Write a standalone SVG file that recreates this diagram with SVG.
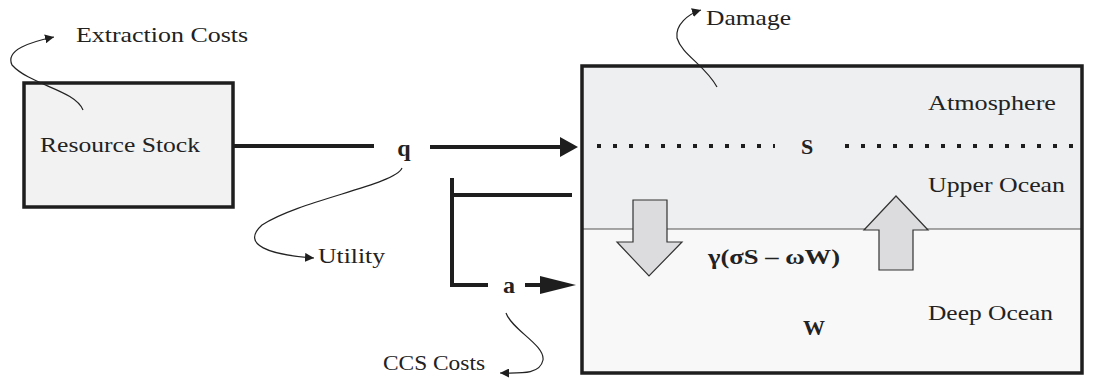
<svg xmlns="http://www.w3.org/2000/svg" width="1101" height="379" viewBox="0 0 1101 379">
<style>
text{font-family:'Liberation Serif',serif;fill:#222}
.b{font-weight:bold}
.thick{stroke:#1e1e1e;stroke-width:4;fill:none}
.thin{stroke:#222;stroke-width:1.2;fill:none}
.blk{fill:#1e1e1e}
.flow{fill:#dcdcde;stroke:#333;stroke-width:1.2}
</style>
<defs>
<marker id="sm" viewBox="0 0 10 10" refX="10" refY="5" markerWidth="9" markerHeight="9" markerUnits="userSpaceOnUse" orient="auto">
<path d="M0,0 L10,5 L0,10 Z" fill="#1e1e1e"/>
</marker>
</defs>
<rect width="1101" height="379" fill="#ffffff"/>

<g id="resource-stock">
<rect x="24" y="83" width="209" height="124" fill="#f2f2f3" stroke="#1e1e1e" stroke-width="3.5"/>
<text font-size="22" x="40" y="152" textLength="160" lengthAdjust="spacingAndGlyphs">Resource Stock</text>
</g>

<g id="climate-box">
<rect x="582" y="66" width="500" height="163" fill="#eeeff1"/>
<rect x="582" y="229" width="500" height="144" fill="#f8f8f8"/>
<line x1="582" y1="229" x2="1082" y2="229" stroke="#555" stroke-width="1.2"/>
<rect x="582" y="66" width="500" height="307" fill="none" stroke="#1e1e1e" stroke-width="3.5"/>
<line x1="597" y1="146" x2="775" y2="146" stroke="#1e1e1e" stroke-width="4" stroke-dasharray="4 12"/>
<line x1="845" y1="146" x2="1082" y2="146" stroke="#1e1e1e" stroke-width="4" stroke-dasharray="4 12"/>
<text class="b" font-size="22" x="807" y="154" text-anchor="middle">S</text>
<text font-size="22" x="928" y="110" textLength="128" lengthAdjust="spacingAndGlyphs">Atmosphere</text>
<text font-size="22" x="928" y="192" textLength="137" lengthAdjust="spacingAndGlyphs">Upper Ocean</text>
<text font-size="22" x="928" y="320" textLength="125" lengthAdjust="spacingAndGlyphs">Deep Ocean</text>
<path class="flow" d="M633,200 L667,200 L667,242 L682,242 L649,276 L617,242 L633,242 Z"/>
<path class="flow" d="M896,196 L928,230 L913,230 L913,270 L879,270 L879,230 L864,230 Z"/>
<text class="b" font-size="20" x="708" y="264" textLength="132" lengthAdjust="spacingAndGlyphs">γ(σS  – ωW)</text>
<text class="b" font-size="22" x="814" y="335" text-anchor="middle">W</text>
</g>

<g id="labels">
<text font-size="22" x="76" y="42" textLength="172" lengthAdjust="spacingAndGlyphs">Extraction Costs</text>
<text font-size="22" x="706" y="25" textLength="85" lengthAdjust="spacingAndGlyphs">Damage</text>
<text font-size="22" x="318" y="263" textLength="67" lengthAdjust="spacingAndGlyphs">Utility</text>
<text font-size="22" x="383" y="370" textLength="102" lengthAdjust="spacingAndGlyphs">CCS Costs</text>
<text class="b" font-size="24" x="404" y="156" text-anchor="middle">q</text>
<text class="b" font-size="24" x="509" y="293" text-anchor="middle">a</text>
</g>

<g id="connectors">
<line class="thick" x1="233" y1="146" x2="374" y2="146"/>
<line class="thick" x1="430" y1="147" x2="562" y2="147"/>
<path class="blk" d="M560,137 L578,147 L560,157 Z"/>
<path class="thick" d="M452,178 L452,285 L488,285"/>
<line class="thick" x1="452" y1="195" x2="572" y2="195"/>
<line class="thick" x1="525" y1="285" x2="543" y2="285"/>
<path class="blk" d="M540,276 L576,285 L540,294 Z"/>
<path class="thin" d="M83,110 C75,90 30,85 12,65 C5,50 30,42 54,37" marker-end="url(#sm)"/>
<path class="thin" d="M717,87 C705,65 682,55 677,38 C675,25 688,14 701,10" marker-end="url(#sm)"/>
<path class="thin" d="M402,168 C395,185 300,200 262,225 C240,245 270,255 314,258" marker-end="url(#sm)"/>
<path class="thin" d="M506,313 C512,330 545,345 543,360 C540,375 520,373 500,373" marker-end="url(#sm)"/>
</g>
</svg>
